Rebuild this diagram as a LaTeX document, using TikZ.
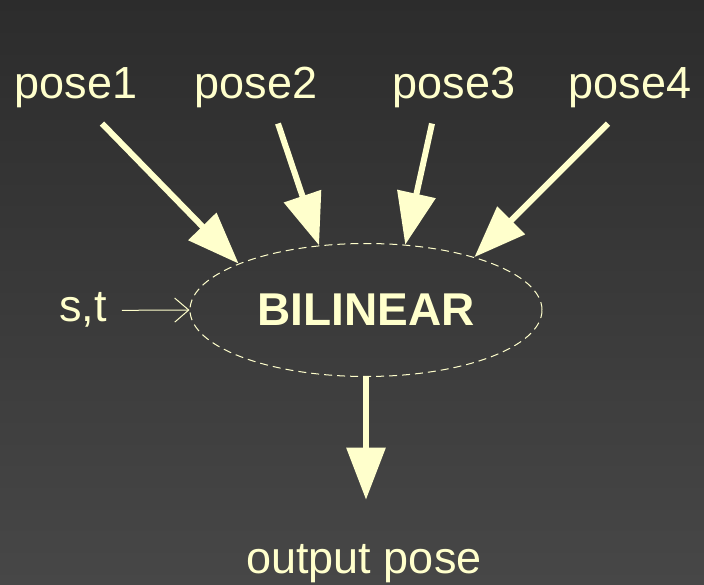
\documentclass[tikz,border=0pt]{standalone}
\usepackage{fontspec}
\setmainfont{Liberation Sans}
\usetikzlibrary{arrows.meta,shapes.geometric}
\definecolor{paleyellow}{HTML}{FFFFCC}
\definecolor{bgtop}{HTML}{2C2C2C}
\definecolor{bgbottom}{HTML}{474747}

\begin{document}
\begin{tikzpicture}[x=1pt,y=-1pt,
    label node/.style={text=paleyellow,font=\fontsize{45}{54}\selectfont,inner sep=15pt,anchor=base},
    blend node/.style={ellipse,draw=paleyellow,line width=1pt,dash pattern=on 8pt off 5pt,
        minimum width=352pt,minimum height=133pt,inner sep=0pt,
        text=paleyellow,font=\fontsize{46}{55}\selectfont\bfseries},
    big arrow/.style={draw=paleyellow,line width=6pt,-{Triangle[length=52pt,width=38pt]}},
    thin arrow/.style={draw=paleyellow,line width=1pt,-{Straight Barb[length=14pt,width=24pt]}}]
                    \shade[top color=bgtop,bottom color=bgbottom] (0,0) rectangle (704,585);
                    \useasboundingbox (0,0) rectangle (704,585);

                    \node[label node] (p1) at (76,99) {pose1};
                    \node[label node] (p2) at (256,99) {pose2};
                    \node[label node] (p3) at (454,99) {pose3};
                    \node[label node] (p4) at (630,99) {pose4};

                    \node[blend node] (bil) at (366,310) {BILINEAR};
                    \node[label node] (st) at (83,322) {s,t};
                    \node[label node] (out) at (364,573) {output pose};

                    \draw[big arrow] ([xshift=26pt]p1.south) -- (bil.160);
                    \draw[big arrow] ([xshift=22pt]p2.south) -- (bil.126);
                    \draw[big arrow] ([xshift=-22pt]p3.south) -- (bil.59);
                    \draw[big arrow] ([xshift=-22pt]p4.south) -- (bil.26);
                    \draw[thin arrow] (st.east) -- (bil.west);
                    \draw[big arrow,shorten >=29pt] (bil.south) -- (bil.south |- out.north);
                \end{tikzpicture}
\end{document}
